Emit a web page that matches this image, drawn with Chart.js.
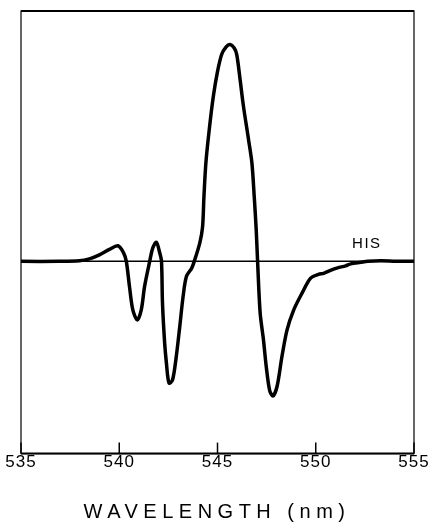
<!DOCTYPE html>
<html>
<head>
<meta charset="utf-8">
<script src="https://cdn.jsdelivr.net/npm/chart.js@4.4.0/dist/chart.umd.min.js"></script>
<style>
html,body{margin:0;padding:0;background:#fff;}
#wrap{width:429px;height:527px;position:relative;}
</style>
</head>
<body>
<div id="wrap"><canvas id="c" width="429" height="527"></canvas></div>
<script>
const wavelengths = [535,536.94,537.97,538.48,538.99,539.5,539.93,540.22,540.36,540.52,540.69,540.92,541.12,541.29,541.55,541.7,541.89,542.06,542.15,542.2,542.31,542.4,542.53,542.71,542.88,543.08,543.25,543.42,543.68,543.8,544.1,544.24,544.31,544.41,544.58,544.79,544.99,545.21,545.43,545.64,545.85,545.98,546.15,546.32,546.58,546.75,546.87,546.97,547.04,547.17,547.34,547.48,547.65,547.82,548.03,548.28,548.54,548.88,549.31,549.73,550.14,550.4,550.75,551.11,551.52,551.78,552.29,552.65,553.31,554.08,555];
const signal = [0,0,0.5,2.5,6.5,12,15.5,8.5,0,-25,-48.5,-58.5,-48.5,-25,0,13,19,8.5,0,-41.5,-81.5,-101.5,-121.5,-118.5,-98.5,-65,-35,-15,-7,-1,18.5,34.5,64.5,98.5,131.5,165,188.5,206.5,214,216.5,213,206.5,181.5,155,121.5,98.5,64.5,31.5,0,-51.5,-78.5,-105,-128.5,-134.5,-125,-95,-68.5,-48.5,-31.5,-17,-13,-12,-9,-6.5,-4.5,-2.5,-1,0,0.5,0,0];
const xTicks = [535,540,545,550,555];
const seriesLabel = 'HIS';
const xTitle = 'WAVELENGTH (nm)';

const pts = wavelengths.map((w,i)=>({x:w,y:signal[i]}));

const decor = {
  id:'decor',
  beforeDraw(chart){
    chart.ctx.letterSpacing='1px';
  },
  beforeDatasetsDraw(chart){
    const {ctx, chartArea:a, scales:{x,y}} = chart;
    ctx.letterSpacing='0px';
    ctx.save();
    ctx.strokeStyle='#000';
    ctx.lineWidth=1.5;
    const y0=y.getPixelForValue(0);
    ctx.beginPath();ctx.moveTo(a.left,y0);ctx.lineTo(a.right,y0);ctx.stroke();
    ctx.restore();
  },
  afterDraw(chart){
    const {ctx, chartArea:a, scales:{x,y}} = chart;
    ctx.save();
    ctx.strokeStyle='#000';
    ctx.lineWidth=1.2;
    ctx.strokeRect(a.left,a.top,a.right-a.left,a.bottom-a.top);
    ctx.lineWidth=2;
    ctx.beginPath();ctx.moveTo(a.left,a.top);ctx.lineTo(a.right,a.top);ctx.stroke();
    ctx.beginPath();ctx.moveTo(a.left,a.bottom);ctx.lineTo(a.right,a.bottom);ctx.stroke();
    ctx.lineWidth=1.5;
    xTicks.forEach(v=>{
      const px=x.getPixelForValue(v);
      ctx.beginPath();ctx.moveTo(px,a.bottom);ctx.lineTo(px,a.bottom-11);ctx.stroke();
    });
    ctx.fillStyle='#000';
    ctx.textAlign='center';
    ctx.textBaseline='middle';
    ctx.font='15px "Liberation Sans", Arial, sans-serif';
    ctx.letterSpacing='1.5px';
    ctx.fillText(seriesLabel, x.getPixelForValue(552.6), y.getPixelForValue(17.5));
    ctx.font='20px "Liberation Sans", Arial, sans-serif';
    ctx.letterSpacing='5.5px';
    ctx.fillText(xTitle, 217, 512);
    ctx.restore();
  }
};

new Chart(document.getElementById('c'), {
  type:'line',
  data:{datasets:[{data:pts,borderColor:'#000',borderWidth:3.5,pointRadius:0,tension:0.3,fill:false,borderJoinStyle:'round',borderCapStyle:'round'}]},
  options:{
    responsive:false,animation:false,
    layout:{padding:{left:21,right:15,top:11,bottom:55}},
    plugins:{legend:{display:false},tooltip:{enabled:false}},
    scales:{
      x:{type:'linear',min:535,max:555,
        afterBuildTicks(s){s.ticks=xTicks.map(v=>({value:v}));},
        grid:{display:false,drawTicks:false},border:{display:false},
        ticks:{color:'#000',padding:-1,maxRotation:0,font:{size:17,family:'"Liberation Sans", Arial, sans-serif'}}},
      y:{display:false,min:-192,max:250}
    }
  },
  plugins:[decor]
});
</script>
</body>
</html>
